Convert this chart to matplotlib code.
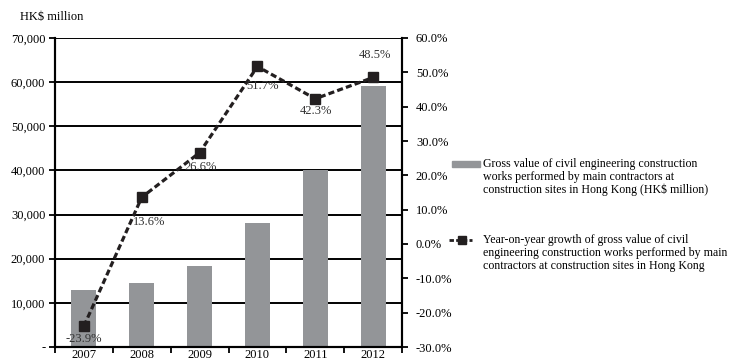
import matplotlib.pyplot as plt
import numpy as np
from matplotlib.lines import Line2D
from matplotlib.patches import Rectangle

plt.rcParams["font.family"] = ["Liberation Serif", "DejaVu Serif"]
plt.rcParams["font.size"] = 9

years = ["2007", "2008", "2009", "2010", "2011", "2012"]
gross_value = [12800, 14500, 18400, 28000, 40100, 59200]
yoy_growth = [-23.9, 13.6, 26.6, 51.7, 42.3, 48.5]

bar_color = "#939598"
line_color = "#231f20"
dash = (0, (1.9, 1.0))

fig = plt.figure(figsize=(7.32, 3.63), dpi=100)
ax = fig.add_axes([55 / 732, 1 - 347 / 363, 347 / 732, 309 / 363])
ax2 = ax.twinx()

x = np.arange(len(years))
ax.bar(x, gross_value, width=0.43, color=bar_color, zorder=2)
ax.set_xlim(-0.5, len(years) - 0.5)
ax.set_ylim(0, 70000)
ax.set_yticks(np.arange(0, 70001, 10000))
ax.set_yticklabels(["-"] + [f"{v:,}" for v in range(10000, 70001, 10000)])
ax.yaxis.grid(True, color="black", linewidth=1.4, zorder=1)
ax.set_axisbelow(True)

# year labels under the bars, ticks in the gaps between them
ax.set_xticks(x)
ax.set_xticklabels(years)
ax.set_xticks(np.arange(-0.5, len(years)), minor=True)
ax.tick_params(axis="x", which="major", length=0, pad=1.5)
ax.tick_params(axis="x", which="minor", length=4, width=1.3, direction="out")
ax.tick_params(axis="y", length=4, width=1.3, direction="out", pad=3)

for a in (ax, ax2):
    a.spines["top"].set_visible(False)
    for s in ("left", "right", "bottom"):
        a.spines[s].set_linewidth(1.5)

ax2.plot(x, yoy_growth, color=line_color, linestyle=dash, linewidth=2.3,
         marker="s", markersize=6.5, zorder=3)
ax2.set_ylim(-30, 60)
ax2.set_yticks(np.arange(-30, 61, 10))
ax2.set_yticklabels([f"{v:.1f}%" for v in range(-30, 61, 10)])
ax2.tick_params(axis="y", length=4, width=1.3, direction="out", pad=6)

# label offsets in pixels from each marker
label_offsets = [(0, -13), (7, -25), (1, -14), (5, -20), (1, -12), (2, 22)]
for xi, val, (dx, dy) in zip(x, yoy_growth, label_offsets):
    ax2.annotate(f"{val:.1f}%", (xi, val), xytext=(dx * 0.72, dy * 0.72),
                 textcoords="offset points", ha="center", va="center",
                 color="#333333", fontsize=9)

fig.text(20 / 732, 1 - 17 / 363, "HK$ million", ha="left", va="center")

# legend drawn by hand at the right of the chart
fig.patches.append(Rectangle((452 / 732, 1 - 167 / 363), 28 / 732, 6 / 363,
                             transform=fig.transFigure, color=bar_color))
legend1 = ["Gross value of civil engineering construction",
           "works performed by main contractors at",
           "construction sites in Hong Kong (HK$ million)"]
for i, line in enumerate(legend1):
    fig.text(483 / 732, 1 - (164 + 12.9 * i) / 363, line, ha="left", va="center",
             fontsize=8.6)

fig.lines.append(Line2D([449 / 732, 472 / 732], [1 - 240 / 363, 1 - 240 / 363],
                        transform=fig.transFigure, color=line_color,
                        linestyle=(0, (1.6, 0.8)), linewidth=2.0))
fig.lines.append(Line2D([462 / 732], [1 - 240 / 363], transform=fig.transFigure,
                        color=line_color, marker="s", markersize=5.5))
legend2 = ["Year-on-year growth of gross value of civil",
           "engineering construction works performed by main",
           "contractors at construction sites in Hong Kong"]
for i, line in enumerate(legend2):
    fig.text(483 / 732, 1 - (240 + 12.9 * i) / 363, line, ha="left", va="center",
             fontsize=8.6)

fig.savefig("out.png", dpi=100)
